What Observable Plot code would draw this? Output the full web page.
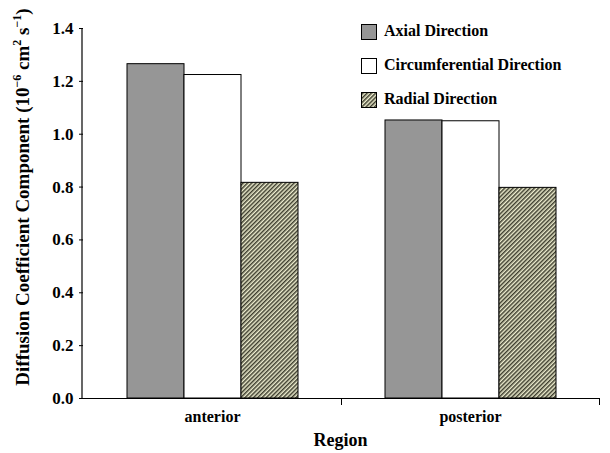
<!DOCTYPE html>
<html>
<head>
<meta charset="utf-8">
<script src="https://cdn.jsdelivr.net/npm/d3@7"></script>
<script src="https://cdn.jsdelivr.net/npm/@observablehq/plot@0.6"></script>
<style>
  html, body { margin: 0; padding: 0; background: white; }
  #wrap { position: relative; width: 610px; height: 453px; font-family: "Liberation Serif", "Times New Roman", serif; font-weight: bold; }
  .legend { position: absolute; left: 361px; top: 24px; font-size: 16px; }
  .legend .item { position: absolute; left: 0; white-space: nowrap; height: 16px; }
  .legend .sw { position: absolute; left: 0; top: 0; width: 14px; height: 14px; border: 1px solid #000; }
  .legend .lab { position: absolute; left: 23px; top: -3px; line-height: 20px; }
</style>
</head>
<body>
<svg width="0" height="0" style="position:absolute">
  <defs>
    <pattern id="hatch" patternUnits="userSpaceOnUse" width="3" height="3" patternTransform="rotate(45)">
      <rect width="3" height="3" fill="#ededcf"></rect>
      <rect width="1.5" height="3" fill="#3d3d2e"></rect>
    </pattern>
  </defs>
</svg>
<div id="wrap"></div>
<script>
const regions = ["anterior", "posterior"];
const directions = ["Axial Direction", "Circumferential Direction", "Radial Direction"];
const axial = [1.265, 1.052];
const circumferential = [1.224, 1.049];
const radial = [0.816, 0.797];
const yTicks = [0, 0.2, 0.4, 0.6, 0.8, 1.0, 1.2, 1.4];
const fills = ["#969696", "#ffffff", "url(#hatch)"];

const seriesValues = [axial, circumferential, radial];
const data = [];
regions.forEach((r, i) => directions.forEach((d, j) => data.push({region: r, direction: d, value: seriesValues[j][i]})));

const W = 610, H = 453, mT = 28, mB = 55, mL = 82, mR = 11;
const font = "Liberation Serif, Times New Roman, serif";

const chart = Plot.plot({
  width: W, height: H,
  marginTop: mT, marginBottom: mB, marginLeft: mL, marginRight: mR,
  style: {fontFamily: font, fontWeight: "bold", fontSize: "16px", color: "#000", background: "white"},
  fx: {domain: regions, padding: 0, axis: null},
  x: {domain: directions, paddingInner: 0, paddingOuter: 0.75, axis: null},
  y: {domain: [0, 1.4], ticks: yTicks, tickFormat: d3.format(".1f"), axis: null},
  color: {domain: directions, range: fills},
  marks: [
    Plot.axisY({ticks: yTicks, tickFormat: d3.format(".1f"), tickSize: 4, tickPadding: 6, label: null, fontSize: 17}),
    Plot.axisFx({anchor: "bottom", tickSize: 0, tickPadding: 12, label: null, fontSize: 16}),
    Plot.barY(data, {fx: "region", x: "direction", y: "value", fill: "direction", stroke: "#000", strokeWidth: 1}),
    Plot.ruleY([0], {stroke: "#000", strokeWidth: 1.2}),
    Plot.frame({anchor: "right", insetTop: H - mT - mB, insetBottom: -6, stroke: "#000"})
  ]
});

const wrap = document.getElementById("wrap");
wrap.appendChild(chart);

const svg = d3.select(chart);
// y axis line
svg.append("line").attr("x1", mL).attr("x2", mL).attr("y1", mT).attr("y2", H - mB).attr("stroke", "#000").attr("stroke-width", 1.2);

// axis titles
const yTitle = svg.append("text")
  .attr("transform", `translate(29,197) rotate(-90)`)
  .attr("text-anchor", "middle")
  .attr("font-family", font).attr("font-weight", "bold").attr("font-size", 19).attr("fill", "#000");
yTitle.append("tspan").text("Diffusion Coefficient Component (10");
yTitle.append("tspan").text("\u22126").attr("font-size", 12).attr("dy", -8);
yTitle.append("tspan").text(" cm").attr("dy", 8);
yTitle.append("tspan").text("2").attr("font-size", 12).attr("dy", -8);
yTitle.append("tspan").text(" s").attr("dy", 8);
yTitle.append("tspan").text("\u22121").attr("font-size", 12).attr("dy", -8);
yTitle.append("tspan").text(")").attr("dy", 8);

svg.append("text")
  .attr("x", (mL + W - mR) / 2).attr("y", 446)
  .attr("text-anchor", "middle")
  .attr("font-family", font).attr("font-weight", "bold").attr("font-size", 18).attr("fill", "#000")
  .text("Region");

// legend
const legend = document.createElement("div");
legend.className = "legend";
directions.forEach((d, i) => {
  const item = document.createElement("div");
  item.className = "item";
  item.style.top = (i * 34) + "px";
  const sw = document.createElement("div");
  sw.className = "sw";
  if (i === 2) {
    sw.innerHTML = '<svg width="14" height="14" style="display:block"><rect width="14" height="14" fill="url(#hatch)"></rect></svg>';
  } else {
    sw.style.background = fills[i];
  }
  const lab = document.createElement("div");
  lab.className = "lab";
  lab.textContent = d;
  item.appendChild(sw);
  item.appendChild(lab);
  legend.appendChild(item);
});
wrap.appendChild(legend);
</script>
</body>
</html>
